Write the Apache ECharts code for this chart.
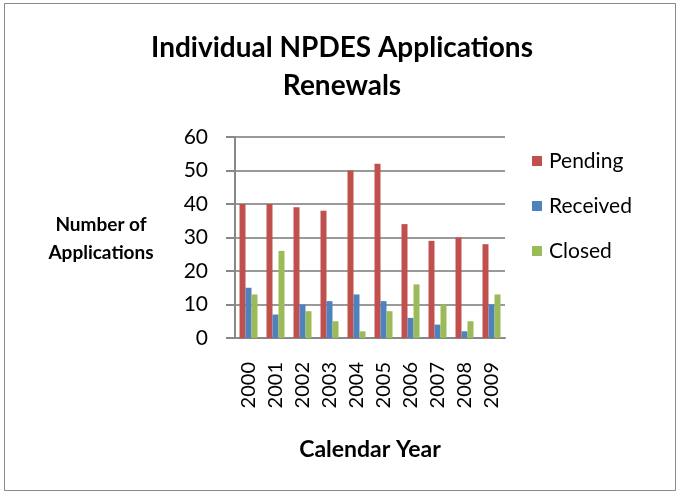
<!DOCTYPE html>
<html><head><meta charset="utf-8">
<script src="https://cdn.jsdelivr.net/npm/echarts@6/dist/echarts.min.js"></script>
<style>html,body{margin:0;padding:0;background:#fff}#c{width:680px;height:496px}</style>
</head><body><div id="c"></div>
<script>
var years = ['2000','2001','2002','2003','2004','2005','2006','2007','2008','2009'];
var pendingApps = [40,40,39,38,50,52,34,29,30,28];
var receivedApps = [15,7,10,11,13,11,6,4,2,10];
var closedApps = [13,26,8,5,2,8,16,10,5,13];
var yTicks = [0,10,20,30,40,50,60];

var chart = echarts.init(document.getElementById('c'));
var font = 'Lato, "Open Sans", sans-serif';
function mkBar(name, data, color){
  return {name:name, type:'bar', data:data, barWidth:6, barGap:'0%',
    itemStyle:{color:color}};
}
chart.setOption({
  animation:false,
  title:{text:'Individual NPDES Applications\nRenewals', left:342, top:29, padding:0, textAlign:'center',
    textStyle:{fontFamily:font, fontWeight:'bold', fontSize:28, lineHeight:38, color:'#000'}},
  graphic:[
    {type:'rect', shape:{x:4.5,y:3.5,width:671,height:487}, style:{fill:null, stroke:'#888', lineWidth:1}},
    {type:'text', x:101, y:211, style:{text:'Number of\nApplications', font:'bold 19px ' + font, lineHeight:28, align:'center', verticalAlign:'top', fill:'#000'}}
  ],
  legend:{orient:'vertical', left:532, top:150, padding:0, itemWidth:10, itemHeight:10, itemGap:23,
    icon:'rect', textStyle:{fontFamily:font, fontSize:21, lineHeight:22, color:'#000', padding:[0,0,0,2]},
    data:['Pending','Received','Closed']},
  grid:{left:235, top:137, right:175, bottom:158},
  xAxis:{type:'category', data:years, name:'Calendar Year', nameLocation:'middle', nameGap:100,
    nameTextStyle:{fontFamily:font, fontWeight:'bold', fontSize:23, color:'#000'},
    axisLine:{lineStyle:{color:'#888', width:2}}, axisTick:{show:false},
    axisLabel:{rotate:90, fontFamily:font, fontSize:20, color:'#000', margin:24}},
  yAxis:{type:'value', min:0, max:60, interval:10,
    axisLine:{show:true, lineStyle:{color:'#888', width:2}},
    axisTick:{show:true, length:9, lineStyle:{color:'#888', width:2}},
    splitLine:{lineStyle:{color:'#999', width:2}},
    axisLabel:{fontFamily:font, fontSize:21, color:'#000', margin:27,
      formatter:function(v){return yTicks.indexOf(v)>=0?String(v):'';}}},
  series:[mkBar('Pending',pendingApps,'#C0504D'), mkBar('Received',receivedApps,'#4F81BD'), mkBar('Closed',closedApps,'#9BBB59')]
});
</script></body></html>
